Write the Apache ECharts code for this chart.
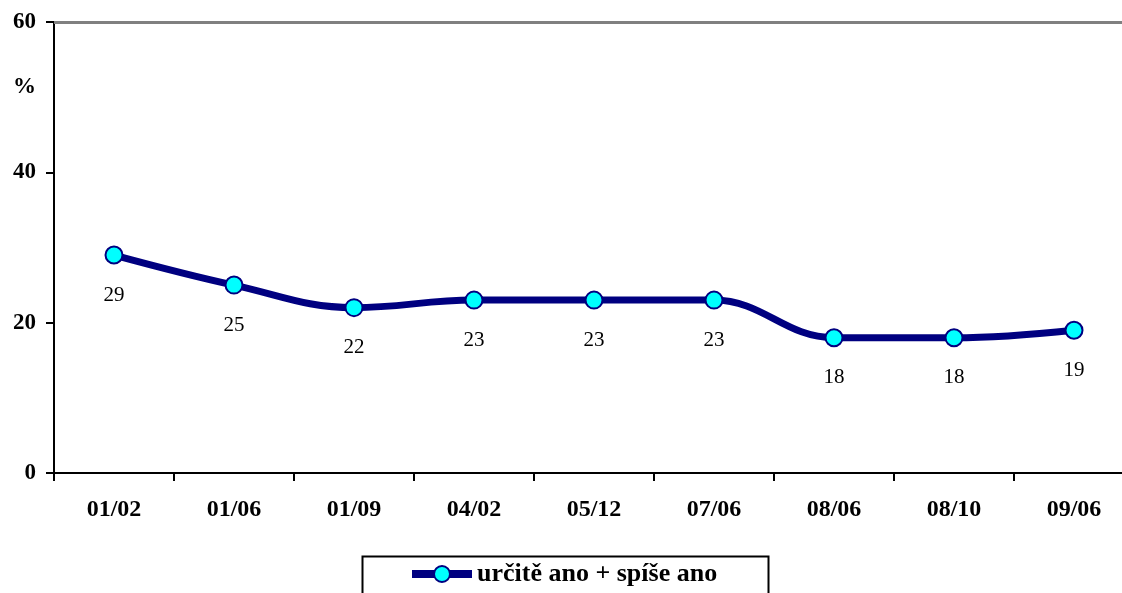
<!DOCTYPE html>
<html>
<head>
<meta charset="utf-8">
<script src="https://cdn.jsdelivr.net/npm/echarts@6/dist/echarts.min.js"></script>
<style>
html,body{margin:0;padding:0;background:#fff;}
#chart{width:1122px;height:593px;}
</style>
</head>
<body>
<div id="chart"></div>
<script>
const categories = ['01/02','01/06','01/09','04/02','05/12','07/06','08/06','08/10','09/06'];
const values = [29, 25, 22, 23, 23, 23, 18, 18, 19];
const seriesName = 'určitě ano + spíše ano';
const yTicks = [0, 20, 40, 60];

const FONT = '"Liberation Serif", "Times New Roman", serif';
const chart = echarts.init(document.getElementById('chart'));
chart.setOption({
  backgroundColor: '#ffffff',
  animation: false,
  grid: { left: 54, width: 1080, top: 22, height: 451, containLabel: false, outerBoundsMode: 'none' },
  xAxis: {
    type: 'category',
    data: categories,
    boundaryGap: true,
    axisLine: { show: true, lineStyle: { color: '#000', width: 2 } },
    axisTick: { show: true, inside: false, length: 8, lineStyle: { color: '#000', width: 2 } },
    axisLabel: { color: '#000', fontFamily: FONT, fontWeight: 'bold', fontSize: 24, margin: 25 },
    splitLine: { show: false }
  },
  yAxis: {
    type: 'value',
    min: yTicks[0], max: yTicks[yTicks.length - 1], interval: 20,
    axisLine: { show: true, lineStyle: { color: '#000', width: 2 } },
    axisTick: { show: true, inside: false, length: 8, lineStyle: { color: '#000', width: 2 } },
    axisLabel: { color: '#000', fontFamily: FONT, fontWeight: 'bold', fontSize: 23, margin: 18 },
    splitLine: { show: false }
  },
  legend: {
    show: true,
    left: 408, top: 561,
    padding: 0,
    itemWidth: 60, itemHeight: 20, itemGap: 6,
    lineStyle: { color: '#000080', width: 8 },
    itemStyle: { color: '#00FFFF', borderColor: '#000080', borderWidth: 2 },
    textStyle: { color: '#000', fontFamily: FONT, fontWeight: 'bold', fontSize: 26 },
    data: [seriesName]
  },
  graphic: [
    { type: 'rect', left: 360, top: 554, shape: { width: 406, height: 60 },
      style: { fill: 'none', stroke: '#000', lineWidth: 2 }, silent: true },
    { type: 'text', left: 13, top: 76,
      style: { text: '%', fill: '#000', font: 'bold 23px ' + FONT } }
  ],
  series: [{
    name: seriesName,
    type: 'line',
    data: values,
    smooth: 0.4,
    symbol: 'circle',
    symbolSize: 17,
    lineStyle: { color: '#000080', width: 7 },
    itemStyle: { color: '#00FFFF', borderColor: '#000080', borderWidth: 2 },
    label: { show: true, position: 'bottom', distance: 20, color: '#000', fontFamily: FONT, fontSize: 21 },
    markLine: {
      silent: true, symbol: 'none', label: { show: false },
      lineStyle: { color: '#808080', width: 3, type: 'solid' },
      data: [{ yAxis: 60 }]
    },
    z: 3
  }]
});
</script>
</body>
</html>
